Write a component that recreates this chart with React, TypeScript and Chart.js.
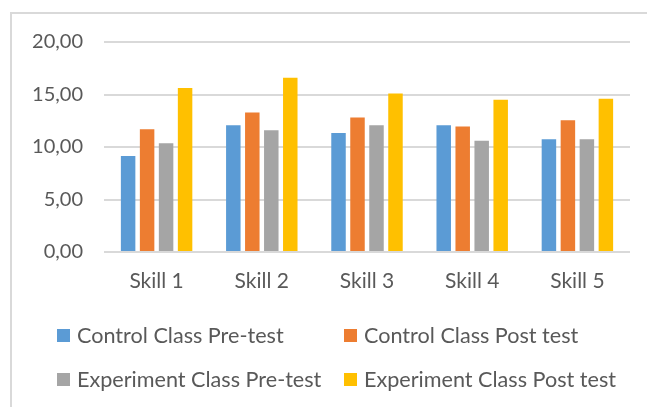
import React, { useEffect, useRef } from "react";
import { Chart, registerables } from "chart.js";

Chart.register(...registerables);

const categories = ["Skill 1", "Skill 2", "Skill 3", "Skill 4", "Skill 5"];
const seriesNames = [
  "Control Class Pre-test",
  "Control Class Post test",
  "Experiment Class Pre-test",
  "Experiment Class Post test",
];
const controlPre = [9.14, 12.08, 11.34, 12.08, 10.74];
const controlPost = [11.69, 13.28, 12.8, 11.95, 12.55];
const experimentPre = [10.35, 11.6, 12.08, 10.6, 10.74];
const experimentPost = [15.62, 16.6, 15.1, 14.5, 14.6];
const seriesColors = ["#5B9BD5", "#ED7D31", "#A5A5A5", "#FFC000"];
const yTicks = [0, 5, 10, 15, 20];

const FONT = "Lato, 'Open Sans', sans-serif";
const TEXT = "#595959";

export default function App() {
  const ref = useRef<HTMLCanvasElement | null>(null);

  useEffect(() => {
    document.body.style.margin = "0";
    const values = [controlPre, controlPost, experimentPre, experimentPost];
    const chart = new Chart(ref.current!, {
      type: "bar",
      data: {
        labels: categories,
        datasets: seriesNames.map((name, i) => ({
          label: name,
          data: values[i],
          backgroundColor: seriesColors[i],
          categoryPercentage: 0.722,
          barPercentage: 0.763,
        })),
      },
      options: {
        animation: false,
        responsive: false,
        layout: { padding: { top: 42, right: 17, bottom: 115, left: 0 } },
        plugins: { legend: { display: false }, tooltip: { enabled: false } },
        scales: {
          x: {
            grid: { display: false, drawTicks: false },
            border: { display: false },
            ticks: { color: TEXT, font: { family: FONT, size: 21 }, padding: 17 },
            afterFit: (s: any) => {
              s.height = 40;
            },
          },
          y: {
            min: yTicks[0],
            max: yTicks[yTicks.length - 1],
            afterBuildTicks: (s: any) => {
              s.ticks = yTicks.map((v) => ({ value: v }));
            },
            grid: { color: "#d9d9d9", lineWidth: 2, drawTicks: false },
            border: { display: false },
            ticks: {
              color: TEXT,
              font: { family: FONT, size: 20 },
              padding: 21,
              callback: (v: any) => Number(v).toFixed(2).replace(".", ","),
            },
            afterFit: (s: any) => {
              s.width = 104;
            },
          },
        },
      },
    });
    return () => chart.destroy();
  }, []);

  const legendPos = [
    { left: 57, top: 329 },
    { left: 344, top: 329 },
    { left: 57, top: 373 },
    { left: 344, top: 373 },
  ];

  return (
    <div
      style={{
        position: "fixed",
        left: 0,
        top: 0,
        width: 647,
        height: 407,
        overflow: "hidden",
        background: "#fff",
      }}
    >
      <div
        style={{
          position: "absolute",
          left: 10,
          top: 12,
          width: 700,
          height: 500,
          border: "2px solid #d9d9d9",
          boxSizing: "border-box",
        }}
      />
      <canvas
        ref={ref}
        width={647}
        height={407}
        style={{ position: "absolute", left: 0, top: 0, display: "block" }}
      />
      {seriesNames.map((name, i) => (
        <div
          key={name}
          style={{
            position: "absolute",
            left: legendPos[i].left,
            top: legendPos[i].top,
            height: 13,
            display: "flex",
            alignItems: "center",
            whiteSpace: "nowrap",
          }}
        >
          <div style={{ width: 13, height: 13, background: seriesColors[i], flex: "none" }} />
          <span
            style={{
              marginLeft: 7,
              fontFamily: FONT,
              fontSize: 21.6,
              color: TEXT,
              lineHeight: "13px",
            }}
          >
            {name}
          </span>
        </div>
      ))}
    </div>
  );
}
